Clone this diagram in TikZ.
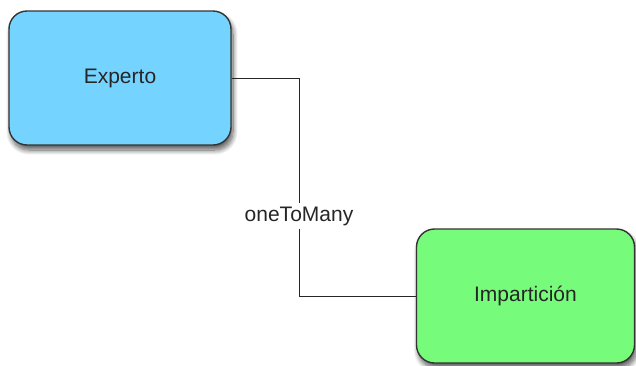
\documentclass[tikz,border=0pt]{standalone}
\usepackage{fontspec}
\setmainfont{Liberation Sans}
\usetikzlibrary{shadows.blur}
\definecolor{entblue}{HTML}{75D4FF}
\definecolor{entgreen}{HTML}{77FB7A}
\definecolor{edgegray}{HTML}{333333}
\tikzset{
  entity/.style={draw=edgegray, line width=1.4pt, rounded corners=18pt,
    minimum width=#1, minimum height=134pt, inner sep=0pt,
    font=\fontsize{21}{24}\selectfont, text=black!85,
    blur shadow={shadow xshift=2pt, shadow yshift=-5pt, shadow blur steps=10, shadow blur radius=5pt, shadow opacity=65}},
  link/.style={draw=black!85, line width=1pt},
  linklabel/.style={fill=white, inner sep=3pt, font=\fontsize{21}{24}\selectfont, text=black!85}
}
\begin{document}
\begin{tikzpicture}[x=1pt, y=-1pt]
  \useasboundingbox (0,0) rectangle (636,365);
  \node[entity=222pt, fill=entblue] (exp) at (120,78) {Experto};
  \node[entity=218pt, fill=entgreen] (imp) at (525.5,296) {Impartición};
  \node[linklabel] (lbl) at (299,216) {oneToMany};
  \draw[link] (exp.east) -| (lbl) |- (imp.west);
\end{tikzpicture}
\end{document}
